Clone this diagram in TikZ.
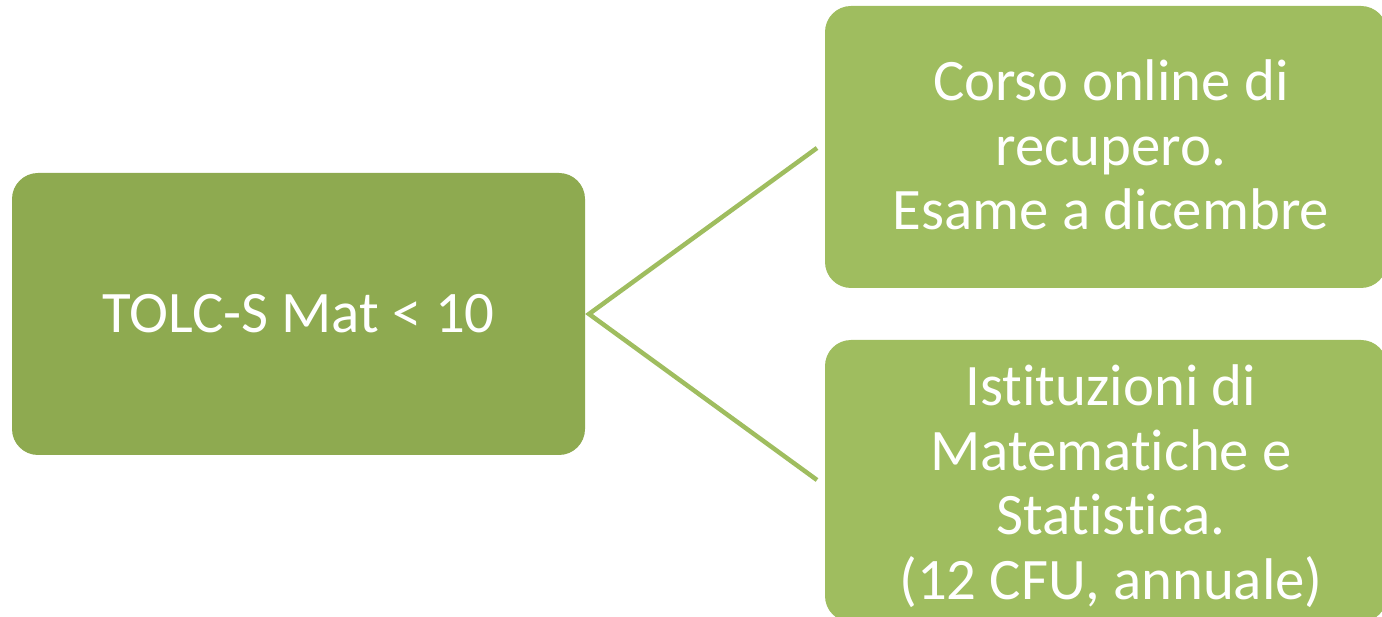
\documentclass[tikz,border=0pt]{standalone}
\usepackage{fontspec}
\setmainfont[RawFeature={-liga;-dlig}]{Carlito}
\definecolor{darkgreen}{HTML}{8EAA50}
\definecolor{lightgreen}{HTML}{9FBD5F}
\begin{document}
\begin{tikzpicture}[x=1pt,y=-1pt,
  box/.style={rectangle,rounded corners=26pt,inner sep=0pt,text=white,align=center,
    font=\fontsize{58.8}{64.5}\selectfont},
  link/.style={draw=lightgreen,line width=4.5pt}]
\useasboundingbox (0,0) rectangle (1382,617);
\clip (0,0) rectangle (1382,617);
\node[box,fill=darkgreen,minimum width=573pt,minimum height=282pt] (L) at (298.5,314) {TOLC-S Mat < 10};
\node[box,fill=lightgreen,minimum width=562pt,minimum height=282pt] (T) at (1106,147) {};
\node[box,fill=lightgreen,minimum width=562pt,minimum height=282pt] (B) at (1106,481) {};
\node[box] (Tt) at (1111,145) {Corso online di\\recupero.\\Esame a dicembre};
\node[box] (Bt) at (1111,486) {Istituzioni di\\Matematiche e\\Statistica.\\(12 CFU, annuale)};
\coordinate (apex) at (589,314);
\coordinate (e1) at (817,148);
\coordinate (e2) at (817,480);
\draw[link] (e1) -- (apex) -- (e2);
\end{tikzpicture}
\end{document}
